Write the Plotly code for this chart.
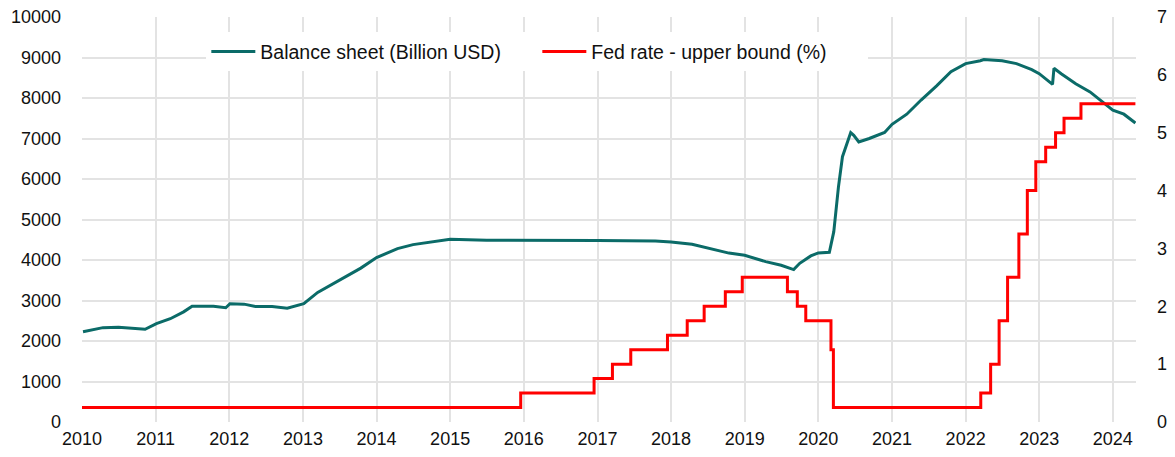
import plotly.graph_objects as go

# Fed balance sheet (Billion USD)
bs_dates = [
    "2010-01-06", "2010-02-15", "2010-04-15", "2010-07-01", "2010-09-15", "2010-11-10",
    "2011-01-05", "2011-03-15", "2011-05-20", "2011-07-01", "2011-10-15", "2011-12-15",
    "2012-01-05", "2012-03-15", "2012-05-10", "2012-08-01", "2012-10-15",
    "2013-01-05", "2013-03-15", "2013-07-01", "2013-10-15",
    "2014-01-01", "2014-04-15", "2014-07-01", "2014-10-15",
    "2015-01-01", "2015-07-01", "2016-01-01", "2017-01-01", "2017-10-15",
    "2018-01-01", "2018-04-15", "2018-08-01", "2018-10-15",
    "2019-01-01", "2019-04-15", "2019-07-01", "2019-09-01", "2019-10-01", "2019-11-25",
    "2020-01-01", "2020-02-25", "2020-03-18", "2020-04-10", "2020-04-30", "2020-05-25",
    "2020-06-10", "2020-06-25", "2020-07-20", "2020-09-10", "2020-11-25",
    "2021-01-01", "2021-03-15", "2021-05-25", "2021-08-10", "2021-10-20",
    "2022-01-01", "2022-03-15", "2022-04-01", "2022-07-01", "2022-09-10", "2022-11-25",
    "2023-01-01", "2023-03-08", "2023-03-15", "2023-04-20", "2023-07-01", "2023-09-10",
    "2023-11-10", "2024-01-01", "2024-02-25", "2024-04-22",
]
bs_values = [
    2230, 2270, 2330, 2340, 2310, 2290,
    2430, 2550, 2720, 2860, 2860, 2820,
    2920, 2910, 2850, 2850, 2810,
    2920, 3200, 3500, 3800,
    4060, 4280, 4380, 4450,
    4510, 4490, 4490, 4480, 4470,
    4445, 4390, 4256, 4170,
    4116, 3960, 3869, 3763, 3918, 4100,
    4175, 4190, 4700, 5800, 6550, 6900,
    7145, 7080, 6915, 7000, 7150,
    7350, 7600, 7950, 8300, 8650,
    8850, 8920, 8948, 8920, 8850, 8700,
    8600, 8338, 8733, 8600, 8350, 8150,
    7900, 7700, 7600, 7383,
]

# Fed funds rate upper bound (%), values from each change date
rate_dates = [
    "2010-01-01", "2015-12-17", "2016-12-15", "2017-03-16", "2017-06-15", "2017-12-14",
    "2018-03-22", "2018-06-14", "2018-09-27", "2018-12-20", "2019-08-01", "2019-09-19",
    "2019-10-31", "2020-03-04", "2020-03-16", "2022-03-17", "2022-05-05", "2022-06-16",
    "2022-07-28", "2022-09-22", "2022-11-03", "2022-12-15", "2023-02-02", "2023-03-23",
    "2023-05-04", "2023-07-27", "2024-04-22",
]
rate_values = [
    0.25, 0.5, 0.75, 1.0, 1.25, 1.5,
    1.75, 2.0, 2.25, 2.5, 2.25, 2.0,
    1.75, 1.25, 0.25, 0.5, 1.0, 1.75,
    2.5, 3.25, 4.0, 4.5, 4.75, 5.0,
    5.25, 5.5, 5.5,
]

year_ticks = [f"{y}-01-01" for y in range(2010, 2025)]
year_labels = [str(y) for y in range(2010, 2025)]

FONT = "Liberation Sans, Arial, sans-serif"
GRID = "#e3e3e3"

fig = go.Figure()
fig.add_trace(go.Scatter(
    x=bs_dates, y=bs_values, mode="lines", name="Balance sheet (Billion USD)",
    line=dict(color="#0b6b68", width=3),
))
fig.add_trace(go.Scatter(
    x=rate_dates, y=rate_values, mode="lines", name="Fed rate - upper bound (%)",
    line=dict(color="#ff0000", width=3, shape="hv"), yaxis="y2",
))

fig.update_layout(
    width=1175, height=457,
    margin=dict(l=82, r=39, t=17, b=35),
    paper_bgcolor="white", plot_bgcolor="white",
    font=dict(family=FONT, size=18, color="#111111"),
    showlegend=True,
    legend=dict(
        orientation="h", x=0.432, y=0.914, xanchor="center", yanchor="middle",
        bgcolor="white", font=dict(size=19.5, color="#111111"),
        itemwidth=44, tracegroupgap=0, entrywidth=272,
    ),
    xaxis=dict(
        type="date", range=["2010-01-01", "2024-04-25"],
        tickvals=year_ticks, ticktext=year_labels, automargin=False,
        showgrid=True, gridcolor=GRID, gridwidth=1.5,
        zeroline=False, showline=False, ticks="", ticklen=0,
        tickfont=dict(size=18), ticklabelstandoff=4,
    ),
    yaxis=dict(
        range=[0, 10000], dtick=1000, tickformat="d", automargin=False,
        showgrid=True, gridcolor=GRID, gridwidth=1.5,
        zeroline=False, showline=False, ticks="",
        tickfont=dict(size=18), ticklabelstandoff=20, ticklabeloverflow="allow",
    ),
    yaxis2=dict(
        range=[0, 7], dtick=1, overlaying="y", side="right", automargin=False,
        showgrid=False, zeroline=False, showline=False, ticks="",
        tickfont=dict(size=18), ticklabelstandoff=20, ticklabeloverflow="allow",
    ),
)

fig.write_html("out.html", config={"displayModeBar": False, "displaylogo": False})

# remove the default 8px page margin so the figure fills the window exactly
with open("out.html", "r", encoding="utf-8") as f:
    html = f.read()
html = html.replace("<body>", '<body style="margin:0;overflow:hidden">', 1)
with open("out.html", "w", encoding="utf-8") as f:
    f.write(html)
